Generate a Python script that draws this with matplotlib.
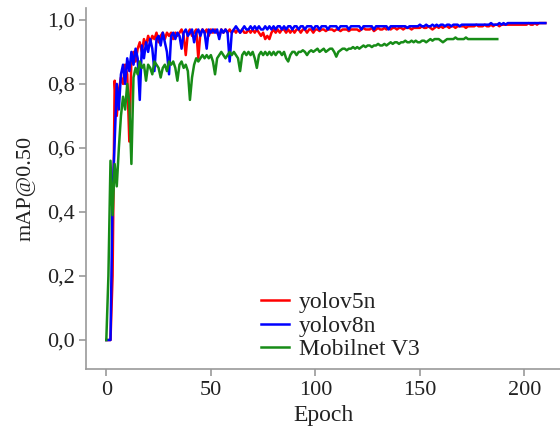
import matplotlib
matplotlib.use("Agg")
import matplotlib.pyplot as plt
from matplotlib.ticker import FuncFormatter

yolov5n = [
    0.0, 0.0, 0.0, 0.20, 0.81, 0.70, 0.78, 0.82, 0.80, 0.86,
    0.83, 0.62, 0.88, 0.90, 0.87, 0.91, 0.93, 0.90, 0.94, 0.92,
    0.95, 0.93, 0.95, 0.94, 0.96, 0.93, 0.95, 0.96, 0.94, 0.96,
    0.95, 0.96, 0.94, 0.96, 0.95, 0.96, 0.97, 0.95, 0.89, 0.96,
    0.97, 0.95, 0.96, 0.97, 0.88, 0.96, 0.97, 0.96, 0.97, 0.95,
    0.97, 0.96, 0.97, 0.96, 0.95, 0.97, 0.96, 0.97, 0.96, 0.97,
    0.96, 0.97, 0.96, 0.97, 0.96, 0.97, 0.96, 0.96, 0.97, 0.96,
    0.97, 0.96, 0.97, 0.96, 0.95, 0.96, 0.94, 0.95, 0.94, 0.96,
    0.97, 0.96, 0.97, 0.96, 0.97, 0.97, 0.96, 0.97, 0.96, 0.97,
    0.96, 0.97, 0.97, 0.96, 0.97, 0.97, 0.96, 0.97, 0.97, 0.96,
    0.97, 0.97, 0.965, 0.97, 0.97, 0.965, 0.97, 0.97, 0.97, 0.965,
    0.97, 0.97, 0.965, 0.97, 0.97, 0.97, 0.965, 0.97, 0.97, 0.97,
    0.97, 0.965, 0.97, 0.975, 0.97, 0.97, 0.97, 0.975, 0.965, 0.97,
    0.975, 0.97, 0.97, 0.975, 0.97, 0.975, 0.97, 0.975, 0.975, 0.97,
    0.975, 0.975, 0.97, 0.975, 0.975, 0.975, 0.97, 0.975, 0.975, 0.975,
    0.975, 0.98, 0.975, 0.975, 0.98, 0.975, 0.97, 0.975, 0.98, 0.975,
    0.98, 0.975, 0.98, 0.98, 0.975, 0.98, 0.98, 0.975, 0.98, 0.98,
    0.98, 0.98, 0.975, 0.98, 0.98, 0.98, 0.98, 0.985, 0.98, 0.98,
    0.98, 0.985, 0.98, 0.98, 0.985, 0.98, 0.985, 0.985, 0.98, 0.985,
    0.985, 0.985, 0.985, 0.985, 0.985, 0.985, 0.985, 0.985, 0.985, 0.985,
    0.985, 0.985, 0.99, 0.985, 0.985, 0.99, 0.985, 0.99, 0.99, 0.99,
    0.99,
]

yolov8n = [
    0.0, 0.0, 0.0, 0.45, 0.62, 0.80, 0.72, 0.83, 0.86, 0.80,
    0.88, 0.84, 0.90, 0.86, 0.91, 0.88, 0.75, 0.92, 0.88, 0.93,
    0.90, 0.94, 0.91, 0.84, 0.94, 0.95, 0.92, 0.96, 0.93, 0.90,
    0.83, 0.95, 0.96, 0.94, 0.96, 0.95, 0.91, 0.96, 0.97, 0.95,
    0.96, 0.97, 0.93, 0.96, 0.97, 0.95, 0.97, 0.96, 0.91, 0.97,
    0.96, 0.97, 0.96, 0.97, 0.94, 0.97, 0.96, 0.97, 0.96, 0.87,
    0.96, 0.97, 0.98, 0.97, 0.96, 0.97, 0.98, 0.97, 0.97, 0.98,
    0.97, 0.98, 0.97, 0.98, 0.97, 0.97, 0.98, 0.97, 0.98, 0.97,
    0.98, 0.97, 0.98, 0.98, 0.97, 0.98, 0.97, 0.98, 0.98, 0.97,
    0.98, 0.98, 0.97, 0.98, 0.98, 0.97, 0.98, 0.98, 0.98, 0.97,
    0.98, 0.98, 0.97, 0.98, 0.98, 0.98, 0.97, 0.98, 0.98, 0.98,
    0.98, 0.97, 0.98, 0.98, 0.98, 0.98, 0.97, 0.98, 0.98, 0.98,
    0.98, 0.98, 0.97, 0.98, 0.98, 0.98, 0.98, 0.98, 0.97, 0.98,
    0.98, 0.98, 0.98, 0.98, 0.98, 0.97, 0.98, 0.98, 0.98, 0.98,
    0.98, 0.98, 0.98, 0.98, 0.975, 0.98, 0.98, 0.98, 0.98, 0.98,
    0.985, 0.98, 0.98, 0.985, 0.98, 0.98, 0.985, 0.98, 0.985, 0.98,
    0.985, 0.985, 0.98, 0.985, 0.985, 0.98, 0.985, 0.985, 0.985, 0.98,
    0.985, 0.985, 0.985, 0.985, 0.985, 0.985, 0.985, 0.985, 0.985, 0.985,
    0.985, 0.985, 0.985, 0.985, 0.99, 0.985, 0.985, 0.985, 0.99, 0.985,
    0.99, 0.985, 0.99, 0.99, 0.99, 0.99, 0.99, 0.99, 0.99, 0.99,
    0.99, 0.99, 0.99, 0.99, 0.99, 0.99, 0.99, 0.99, 0.99, 0.99,
    0.99,
]

mobilnet_v3 = [
    0.0, 0.20, 0.56, 0.39, 0.55, 0.48, 0.60, 0.70, 0.76, 0.72,
    0.80, 0.74, 0.55, 0.82, 0.85, 0.83, 0.87, 0.85, 0.86, 0.81,
    0.86, 0.85, 0.83, 0.87, 0.86, 0.85, 0.82, 0.85, 0.86, 0.84,
    0.87, 0.86, 0.87, 0.85, 0.81, 0.86, 0.87, 0.85, 0.86, 0.84,
    0.75, 0.82, 0.86, 0.88, 0.87, 0.88, 0.89, 0.88, 0.89, 0.88,
    0.89, 0.87, 0.83, 0.88, 0.89, 0.90, 0.89, 0.88, 0.89, 0.90,
    0.89, 0.90, 0.89, 0.88, 0.84, 0.89, 0.90, 0.89, 0.90, 0.89,
    0.90, 0.88, 0.85, 0.89, 0.90, 0.89, 0.90, 0.89, 0.90, 0.89,
    0.90, 0.89, 0.90, 0.90, 0.89, 0.90, 0.88, 0.87, 0.89, 0.90,
    0.90, 0.89, 0.90, 0.90, 0.905, 0.90, 0.89, 0.90, 0.905, 0.90,
    0.905, 0.91, 0.90, 0.905, 0.91, 0.90, 0.905, 0.91, 0.91, 0.90,
    0.885, 0.90, 0.905, 0.91, 0.91, 0.905, 0.91, 0.91, 0.915, 0.91,
    0.915, 0.91, 0.915, 0.92, 0.915, 0.92, 0.92, 0.915, 0.92, 0.92,
    0.925, 0.92, 0.92, 0.925, 0.92, 0.925, 0.93, 0.925, 0.93, 0.93,
    0.925, 0.93, 0.93, 0.935, 0.93, 0.93, 0.935, 0.93, 0.935, 0.93,
    0.93, 0.935, 0.935, 0.93, 0.935, 0.94, 0.935, 0.94, 0.94, 0.94,
    0.935, 0.93, 0.935, 0.94, 0.94, 0.94, 0.94, 0.945, 0.94, 0.94,
    0.94, 0.94, 0.945, 0.94, 0.94, 0.94, 0.94, 0.94, 0.94, 0.94,
    0.94, 0.94, 0.94, 0.94, 0.94, 0.94, 0.94, 0.94,
]

series_labels = ["yolov5n", "yolov8n", "Mobilnet V3"]
x_ticks = [0, 50, 100, 150, 200]
y_ticks = [0.0, 0.2, 0.4, 0.6, 0.8, 1.0]

plt.rcParams['font.family'] = ['Liberation Serif', 'DejaVu Serif']

fig = plt.figure(figsize=(5.6, 4.37), dpi=100)
ax = fig.add_axes([0.154, 0.156, 0.846, 0.826])

ax.plot(range(len(yolov5n)), yolov5n, color='#ff0000', lw=1.8, label=series_labels[0])
ax.plot(range(len(yolov8n)), yolov8n, color='#0000ff', lw=1.8, label=series_labels[1])
ax.plot(range(len(mobilnet_v3)), mobilnet_v3, color='#178c17', lw=1.8, label=series_labels[2])

ax.set_xlim(-9.6, 217)
ax.set_ylim(-0.09, 1.0375)
ax.set_xticks(x_ticks)
ax.set_yticks(y_ticks)
ax.yaxis.set_major_formatter(FuncFormatter(lambda v, p: f"{v:.1f}".replace('.', ',')))

for s in ['top', 'right']:
    ax.spines[s].set_visible(False)
for s in ['left', 'bottom']:
    ax.spines[s].set_color('#999999')
    ax.spines[s].set_linewidth(1.2)
ax.tick_params(colors='#999999', length=5, width=1.2, labelcolor='#222222', labelsize=16)

ax.set_xlabel('Epoch', fontsize=17, color='#222222', labelpad=4)
ax.set_ylabel('mAP@0.50', fontsize=16, color='#222222', labelpad=8)

leg = ax.legend(loc='upper left', bbox_to_anchor=(0.466, 0.332), bbox_transform=fig.transFigure,
                frameon=False, fontsize=17, handlelength=1.2, handletextpad=0.4,
                labelspacing=0.08, borderaxespad=0, borderpad=0)
for t in leg.get_texts():
    t.set_color('#222222')

fig.savefig('out.png', dpi=100)
